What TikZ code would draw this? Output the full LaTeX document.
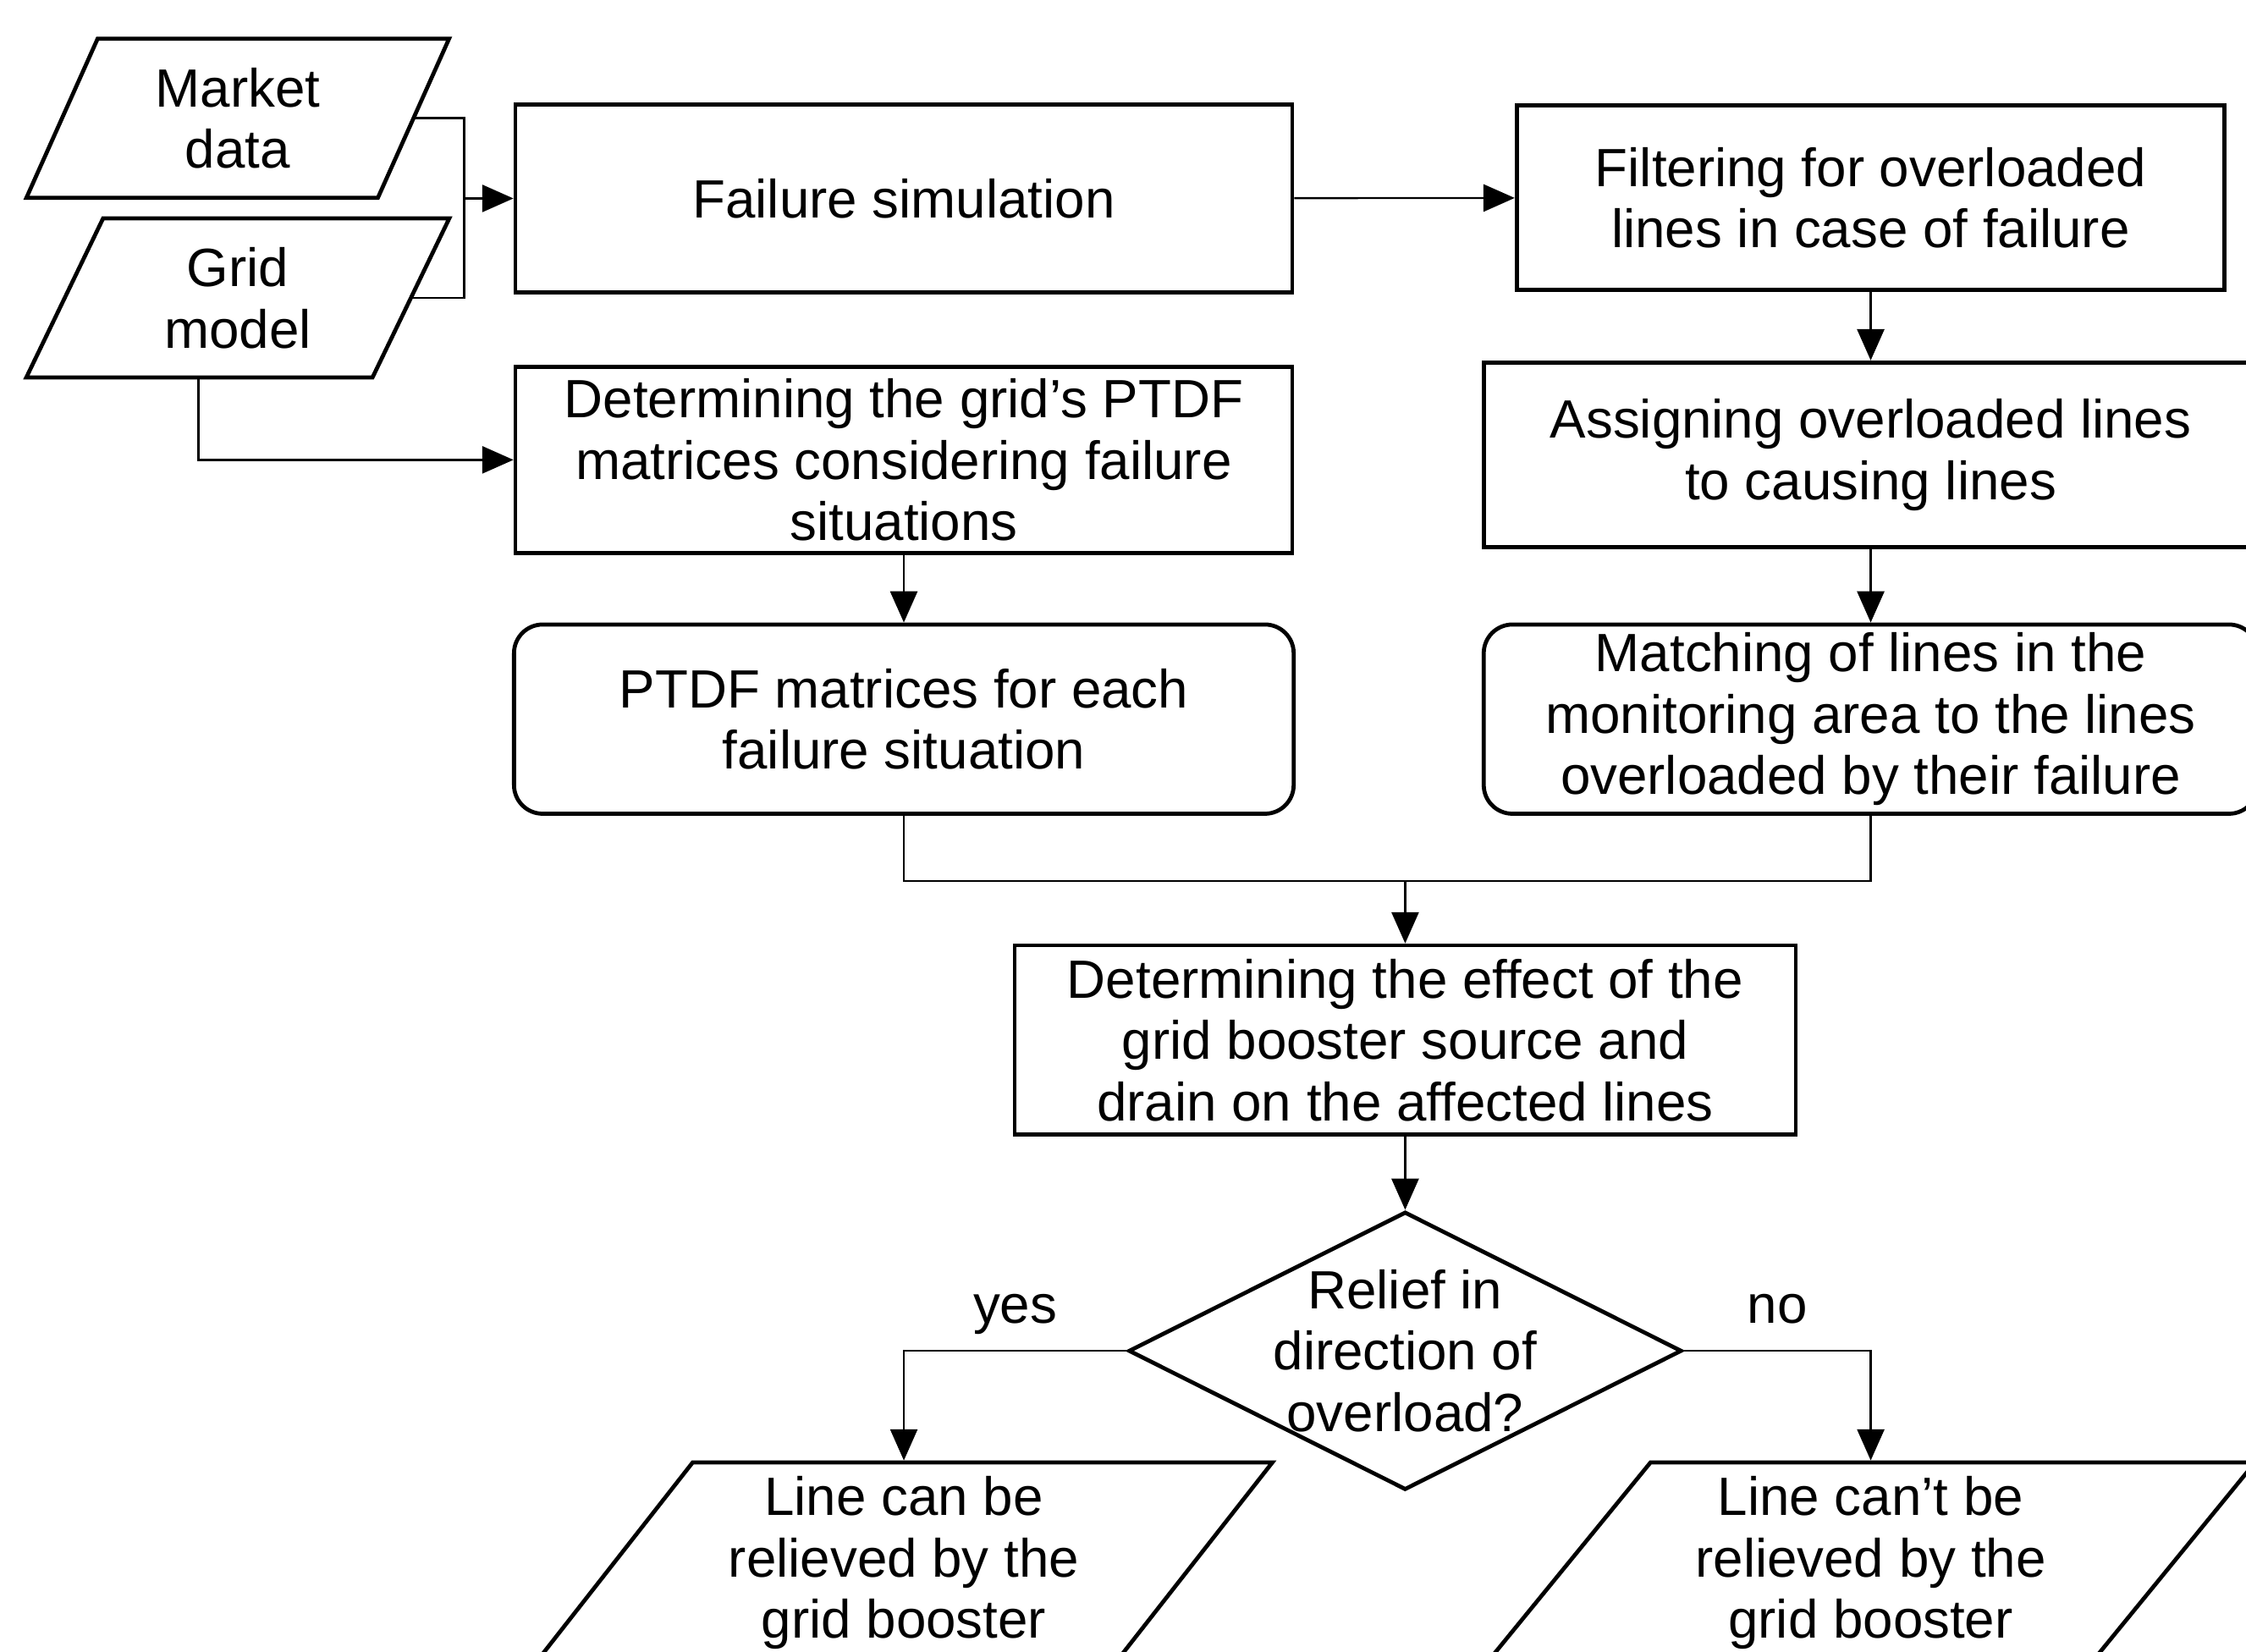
\documentclass[tikz,border=0pt]{standalone}
\usepackage{fontspec}
\setmainfont{Liberation Sans}
\usepackage{tikz}
\usetikzlibrary{shapes.geometric}
\usetikzlibrary{arrows.meta}
\tikzset{
	block/.style    = {draw, line width=0.8pt, rectangle, align=center,
		inner sep=0pt,
		minimum height = 1.31cm,
		minimum width = 5.42cm},
	rblock/.style   = {block, rounded corners=0.2cm},
	data/.style     = {draw, line width=0.8pt, trapezium, align=center,
		trapezium left angle=67.5, trapezium right angle=112.5,
		trapezium stretches=true, inner sep=0pt,
		minimum height = 1.11cm,
		minimum width = 2.96cm},
	decision/.style = {draw, line width=0.8pt, diamond, inner sep=0pt,
		minimum height = 1.94cm,
		minimum width = 3.86cm},
	answer/.style   = {pos=0.25, above=2pt, text depth=0pt},
}

\begin{document}
\begin{tikzpicture}[ x=0.01cm, y=-0.01cm,             %<--one unit per pixel of the sketch, y downwards
                       line width=0.4pt,                %<--setting line style
                       every node/.style={font=\fontsize{10.7pt}{12.2pt}\selectfont},
                       >={Triangle[length=6.2pt,width=5.4pt]} ] %<--sets the arrowtype

    \useasboundingbox (0,0) rectangle (1568,1153);
    \clip (0,0) rectangle (1568,1153);

    \draw%-----------------------------------------------------------------------------------------
    	%Drawing the Inputs:
    	node(MarketData) at (166,82.5) [data] {Market\\data}
    	node(GridModel) at (166,208) [data] {Grid\\model}
    	%Drawing the Process Blocks:
    	node(FailSim) at (631,138.5) [block] {Failure simulation}
    	node(Filter) at (1306,138) [block, minimum width=4.94cm, minimum height=1.29cm]
    		{Filtering for overloaded\\lines in case of failure}
    	node(PTDF) at (631,321) [block, minimum height=1.30cm]
    		{Determining the grid’s PTDF\\matrices considering failure\\situations}
    	node(Assign) at (1306,317.5) [block, minimum width=5.40cm, minimum height=1.29cm]
    		{Assigning overloaded lines\\to causing lines}
    	node(PTDFmat) at (631,502) [rblock, minimum width=5.44cm, minimum height=1.32cm]
    		{PTDF matrices for each\\failure situation}
    	node(Match) at (1306,502) [rblock, minimum width=5.40cm, minimum height=1.32cm]
    		{Matching of lines in the\\monitoring area to the lines\\overloaded by their failure}
    	node(Effect) at (981,726) [block, minimum width=5.45cm, minimum height=1.32cm]
    		{Determining the effect of the\\grid booster source and\\drain on the affected lines}
    	%Drawing the Decision:
    	node(Relief) at (981,943) [decision] {}
    	node(ReliefText) at (981,943) [align=center] {Relief in\\direction of\\overload?}
    	%Drawing the Outputs:
    	node(CanRelieve) at (631,1091) [data, trapezium left angle=53, trapezium right angle=127,
    		minimum width=5.15cm, minimum height=1.40cm] {Line can be\\relieved by the\\grid booster}
    	node(CantRelieve) at (1306,1091) [data, trapezium left angle=53, trapezium right angle=127,
    		minimum width=5.37cm, minimum height=1.40cm] {Line can’t be\\relieved by the\\grid booster}
    	%Drawing the Join Nodes:
    	node[shape=coordinate][](JoinNode) at (324,138.5){}
    	node[shape=coordinate][](MergeNode) at (981,615){}
    ;%---------------------------------------------------------------------------------------------

    %Joining the Blocks
    \draw (MarketData.right side) -| (JoinNode) |- (GridModel.right side);
    \draw[->] (JoinNode) -- (FailSim);
    \draw[->] (FailSim) -- (Filter);
    \draw[->] (GridModel.bottom side) |- (PTDF);
    \draw[->] (PTDF) -- (PTDFmat);
    \draw[->] (Filter) -- (Assign);
    \draw[->] (Assign) -- (Match);

    \draw (PTDFmat) |- (MergeNode) -| (Match);
    \draw[->] (MergeNode) -- (Effect);
    \draw[->] (Effect) -- (Relief);

    \draw[->] (Relief.west) -| node[answer] {yes} (CanRelieve);
    \draw[->] (Relief.east) -| node[answer] {no} (CantRelieve);
\end{tikzpicture}
\end{document}
